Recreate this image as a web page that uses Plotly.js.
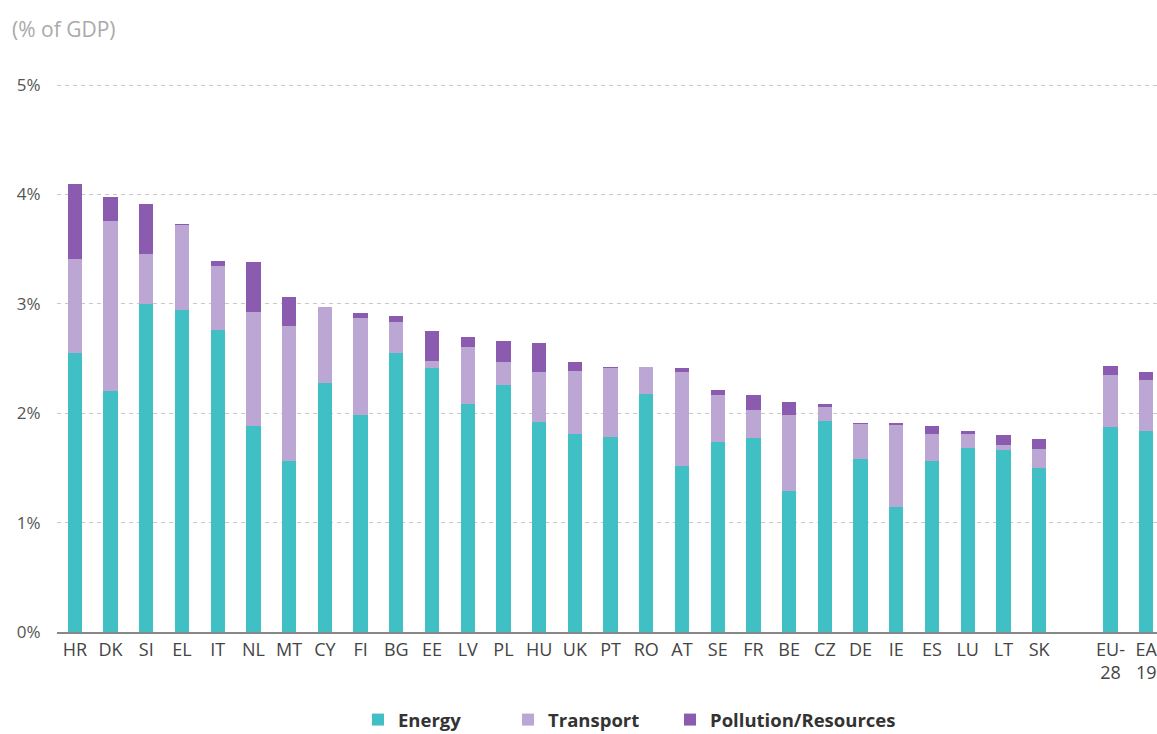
<!DOCTYPE html>
<html>
<head>
<meta charset="utf-8">
<script src="https://cdn.plot.ly/plotly-3.0.1.min.js"></script>
<style>html,body{margin:0;padding:0;background:#fff;}#chart{width:1157px;height:734px;}</style>
</head>
<body>
<div id="chart"></div>
<script>
var categories = ["HR","DK","SI","EL","IT","NL","MT","CY","FI","BG","EE","LV","PL","HU","UK","PT","RO","AT","SE","FR","BE","CZ","DE","IE","ES","LU","LT","SK"," ","EU-<br>28","EA<br>19"];
var energy = [2.55,2.20,3.00,2.94,2.76,1.88,1.56,2.28,1.98,2.55,2.41,2.08,2.26,1.92,1.81,1.78,2.18,1.52,1.74,1.77,1.29,1.93,1.58,1.14,1.56,1.68,1.66,1.50,null,1.87,1.84];
var transport = [0.86,1.56,0.46,0.78,0.59,1.05,1.24,0.69,0.89,0.28,0.07,0.53,0.21,0.46,0.58,0.63,0.24,0.86,0.43,0.26,0.69,0.13,0.32,0.75,0.25,0.13,0.05,0.17,null,0.48,0.46];
var pollution = [0.69,0.22,0.45,0.01,0.04,0.45,0.26,0.00,0.05,0.06,0.27,0.09,0.19,0.26,0.08,0.01,0.00,0.03,0.04,0.14,0.12,0.02,0.01,0.02,0.07,0.03,0.09,0.09,null,0.08,0.08];
var yTickVals = [0,1,2,3,4,5];
var yTickText = ["0%","1%","2%","3%","4%","5%"];

var font = "Open Sans, Noto Sans, sans-serif";
var traces = [
  {type:"bar", name:"Energy", x:categories, y:energy, marker:{color:"#40c0c4"}, legend:"legend"},
  {type:"bar", name:"Transport", x:categories, y:transport, marker:{color:"#bca6d3"}, legend:"legend2"},
  {type:"bar", name:"Pollution/Resources", x:categories, y:pollution, marker:{color:"#8b5bb0"}, legend:"legend3"}
];
function leg(x) {
  return {orientation:"h", xref:"container", yref:"container", x:x, xanchor:"left", y:0.019, yanchor:"middle",
          bgcolor:"rgba(0,0,0,0)", font:{family:font, size:18.5, color:"#333", weight:"bold"}};
}
var layout = {
  width:1157, height:734,
  margin:{l:57, r:0, t:83.5, b:102},
  paper_bgcolor:"#fff", plot_bgcolor:"#fff",
  barmode:"stack", bargap:0.6,
  font:{family:font, color:"#444"},
  showlegend:true,
  legend:leg(0.3094),
  legend2:leg(0.4391),
  legend3:leg(0.5791),
  xaxis:{type:"category", range:[-0.5,30.3], showgrid:false, showline:true, linecolor:"#888", linewidth:2, automargin:false,
         tickfont:{family:font, size:18, color:"#444"}, ticks:"", fixedrange:true},
  yaxis:{range:[0,5.01], tickvals:yTickVals, ticktext:yTickText, showgrid:true, gridcolor:"#c8c8c8", griddash:"4px,4px", gridwidth:1,
         zeroline:false, showline:false, ticks:"outside", ticklen:12, tickcolor:"rgba(0,0,0,0)", automargin:false,
         tickfont:{family:font, size:17, color:"#555"}},
  annotations:[{text:"(% of GDP)", xref:"paper", yref:"paper", x:-0.043, xanchor:"left", y:1.1, yanchor:"middle",
                showarrow:false, font:{family:font, size:21, color:"#aaa"}}]
};
Plotly.newPlot("chart", traces, layout, {displayModeBar:false, staticPlot:true});
</script>
</body>
</html>
